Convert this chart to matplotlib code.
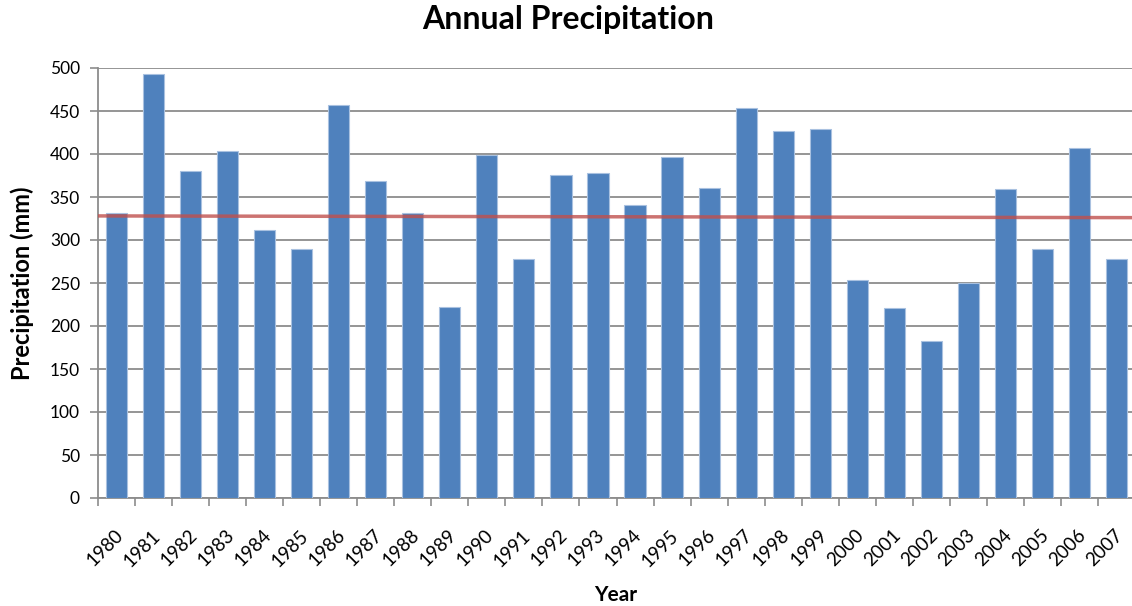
import numpy as np
import matplotlib as mpl
mpl.use('Agg')
from matplotlib import pyplot as plt

plt.rcParams['font.family'] = ['Lato', 'DejaVu Sans']

# data
years = [str(y) for y in range(1980, 2008)]
precip = [331, 493, 380, 403, 312, 290, 457, 369, 331, 222,
          399, 278, 376, 378, 341, 396, 361, 453, 427, 429,
          254, 221, 182, 250, 359, 289, 407, 278]
trend_ends = [328, 326]
yticks = list(range(0, 501, 50))

fig = plt.figure(figsize=(11.32, 6.06), dpi=100)
ax = fig.add_axes([98 / 1132, 1 - 498 / 606, 1037 / 1132, 430 / 606])

x = np.arange(len(years))
ax.bar(x, precip, width=0.57, color='#4F81BD', edgecolor='#A9C1E0',
       linewidth=0.8, zorder=3)
ax.plot([-0.5, len(years) - 0.5], trend_ends, color='#C0504D', alpha=0.8,
        linewidth=2.5, zorder=4, solid_capstyle='butt')

ax.set_xlim(-0.5, len(years) - 0.5)
ax.set_ylim(0, 500)
ax.set_yticks(yticks)
ax.yaxis.grid(True, color='#8C8C8C', linewidth=1.3, zorder=0)
ax.set_axisbelow(True)

# category ticks sit between bars, labels at bar centres
ax.set_xticks(np.arange(-0.5, len(years) + 0.5, 1.0))
ax.set_xticklabels([])
ax.set_xticks(x + 0.1, minor=True)
ax.set_xticklabels(years, minor=True, rotation=45, ha='right', va='center',
                   rotation_mode='anchor', fontsize=13.5)
ax.tick_params(axis='x', which='minor', length=0, pad=25)
ax.tick_params(axis='x', which='major', length=6, width=1.2, color='#8C8C8C')
ax.tick_params(axis='y', length=6, width=1.2, color='#8C8C8C', labelsize=12.5, pad=7)

for s in ['top', 'right']:
    ax.spines[s].set_visible(False)
for s in ['left', 'bottom']:
    ax.spines[s].set_color('#8C8C8C')
    ax.spines[s].set_linewidth(1.3)

fig.text(568 / 1132, 1 - 29 / 606, 'Annual Precipitation', ha='center',
         va='baseline', fontsize=23, fontweight='bold')
fig.text(22 / 1132, 1 - 283 / 606, 'Precipitation (mm)', rotation=90, ha='center',
         va='center', fontsize=17, fontweight='bold')
fig.text(616 / 1132, 1 - 601 / 606, 'Year', ha='center', va='baseline',
         fontsize=15, fontweight='bold')

plt.savefig('out.png', dpi=100)
